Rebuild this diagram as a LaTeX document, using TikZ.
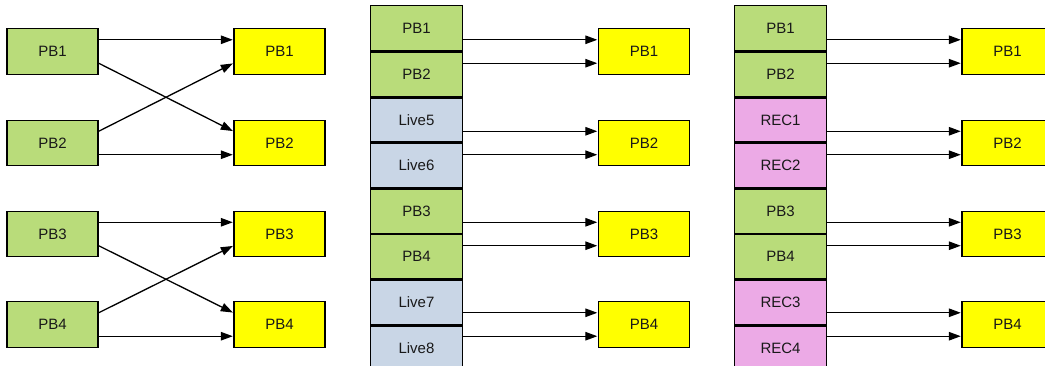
\documentclass[tikz,border=0pt]{standalone}
\usepackage{fontspec}
\setmainfont{Liberation Sans}
\usetikzlibrary{arrows.meta,calc}
\definecolor{gr}{RGB}{185,220,122}
\definecolor{bl}{RGB}{201,214,230}
\definecolor{pk}{RGB}{236,170,230}
\definecolor{ye}{RGB}{255,255,0}
\tikzset{
  box/.style={draw=black, line width=1.4pt, minimum width=91pt, minimum height=45.5pt, inner sep=0pt, font=\fontsize{15}{18}\selectfont, text=black!90},
  cell/.style={box, draw=none, minimum height=45.6pt},
  cellborder/.style={draw=black, line width=1.4pt},
  arr/.style={-{Triangle[length=12pt,width=8.5pt]}, line width=1.3pt, shorten >=0.5pt}
}
\begin{document}
\begin{tikzpicture}[x=1pt,y=-1pt]
\useasboundingbox (0,0) rectangle (1045,366);
\clip (0,0) rectangle (1045,366);
% ---------- left section ----------
\node[box, fill=gr] (a1) at (52.5,51.5) {PB1};
\node[box, fill=gr] (a2) at (52.5,143) {PB2};
\node[box, fill=gr] (a3) at (52.5,234) {PB3};
\node[box, fill=gr] (a4) at (52.5,324.5) {PB4};
\node[box, fill=ye] (b1) at (279.5,51.5) {PB1};
\node[box, fill=ye] (b2) at (279.5,143) {PB2};
\node[box, fill=ye] (b3) at (279.5,234) {PB3};
\node[box, fill=ye] (b4) at (279.5,324.5) {PB4};
\foreach \s/\t in {1/2,3/4}{
  \draw[arr] ($(a\s.north east)!0.25!(a\s.south east)$) -- ($(b\s.north west)!0.25!(b\s.south west)$);
  \draw[arr] ($(a\s.north east)!0.75!(a\s.south east)$) -- ($(b\t.north west)!0.25!(b\t.south west)$);
  \draw[arr] ($(a\t.north east)!0.25!(a\t.south east)$) -- ($(b\s.north west)!0.75!(b\s.south west)$);
  \draw[arr] ($(a\t.north east)!0.75!(a\t.south east)$) -- ($(b\t.north west)!0.75!(b\t.south west)$);
}
% ---------- middle section ----------
\foreach \i/\lab/\col in {0/PB1/gr,1/PB2/gr,2/Live5/bl,3/Live6/bl,4/PB3/gr,5/PB4/gr,6/Live7/bl,7/Live8/bl}{
  \node[cell, fill=\col] (m\i) at (416.5,{28.8+45.6*\i}) {\lab};
}
\foreach \i in {0,...,7}{
  \draw[cellborder] (m\i.north west) rectangle (m\i.south east);
}
\node[box, fill=ye] (n0) at (644,51.5) {PB1};
\node[box, fill=ye] (n1) at (644,143) {PB2};
\node[box, fill=ye] (n2) at (644,234) {PB3};
\node[box, fill=ye] (n3) at (644,324.5) {PB4};
\foreach \k in {0,1,2,3}{
  \pgfmathtruncatemacro{\ca}{2*\k}
  \pgfmathtruncatemacro{\cb}{2*\k+1}
  \coordinate (nq\k) at ($(n\k.north west)!0.25!(n\k.south west)$);
  \coordinate (nr\k) at ($(n\k.north west)!0.75!(n\k.south west)$);
  \draw[arr] (m\ca.east |- nq\k) -- (nq\k);
  \draw[arr] (m\cb.east |- nr\k) -- (nr\k);
}
% ---------- right section ----------
\foreach \i/\lab/\col in {0/PB1/gr,1/PB2/gr,2/REC1/pk,3/REC2/pk,4/PB3/gr,5/PB4/gr,6/REC3/pk,7/REC4/pk}{
  \node[cell, fill=\col] (r\i) at (780.5,{28.8+45.6*\i}) {\lab};
}
\foreach \i in {0,...,7}{
  \draw[cellborder] (r\i.north west) rectangle (r\i.south east);
}
\node[box, fill=ye] (s0) at (1007.5,51.5) {PB1};
\node[box, fill=ye] (s1) at (1007.5,143) {PB2};
\node[box, fill=ye] (s2) at (1007.5,234) {PB3};
\node[box, fill=ye] (s3) at (1007.5,324.5) {PB4};
\foreach \k in {0,1,2,3}{
  \pgfmathtruncatemacro{\ca}{2*\k}
  \pgfmathtruncatemacro{\cb}{2*\k+1}
  \coordinate (sq\k) at ($(s\k.north west)!0.25!(s\k.south west)$);
  \coordinate (sr\k) at ($(s\k.north west)!0.75!(s\k.south west)$);
  \draw[arr] (r\ca.east |- sq\k) -- (sq\k);
  \draw[arr] (r\cb.east |- sr\k) -- (sr\k);
}
\end{tikzpicture}
\end{document}
